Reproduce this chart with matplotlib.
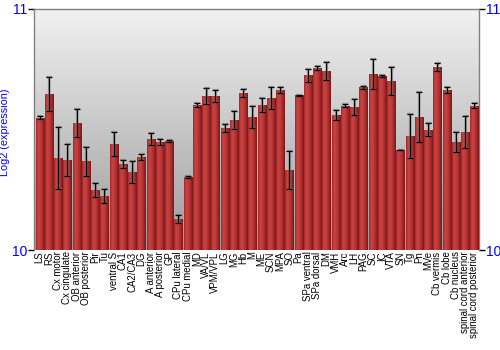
import numpy as np
import matplotlib
matplotlib.use("Agg")
import matplotlib.pyplot as plt
from matplotlib.colors import LinearSegmentedColormap

# brain regions
regions = ['LS', 'RS', 'Cx motor', 'Cx cingulate', 'OB anterior', 'OB posterior',
           'Pir', 'Tu', 'ventral S', 'CA1', 'CA2/CA3', 'DG', 'A anterior',
           'A posterior', 'GP', 'CPu lateral', 'CPu medial', 'MD', 'VA/VL',
           'VPM/VPL', 'LG', 'MG', 'Hb', 'M', 'ME', 'SCN', 'MPA', 'SO', 'Pa',
           'SPa ventral', 'SPa dorsal', 'DM', 'VMH', 'Arc', 'LH', 'PAG', 'SC',
           'IC', 'VTA', 'SN', 'Tg', 'Pn', 'MVe', 'Cb vermis', 'Cb lobe',
           'Cb nucleus', 'spinal cord anterior', 'spinal cord posterior']

# log2 expression (mean) and error
expr = [10.548, 10.647, 10.382, 10.373, 10.527, 10.369,
        10.249, 10.224, 10.440, 10.357, 10.324, 10.386, 10.461,
        10.448, 10.452, 10.129, 10.303, 10.602, 10.639,
        10.639, 10.506, 10.539, 10.651, 10.552, 10.600, 10.631, 10.664,
        10.332, 10.643, 10.726, 10.755, 10.743, 10.560, 10.598, 10.593,
        10.676, 10.730, 10.722, 10.701, 10.415, 10.473, 10.552, 10.498,
        10.759, 10.664, 10.448, 10.490, 10.598]
err = [0.006, 0.072, 0.127, 0.068, 0.058, 0.060,
       0.031, 0.029, 0.050, 0.018, 0.046, 0.014, 0.025,
       0.012, 0.004, 0.015, 0.006, 0.008, 0.035,
       0.023, 0.017, 0.037, 0.016, 0.044, 0.029, 0.044, 0.012,
       0.077, 0.002, 0.027, 0.008, 0.039, 0.021, 0.006, 0.033,
       0.006, 0.062, 0.006, 0.058, 0.002, 0.093, 0.104, 0.027,
       0.017, 0.014, 0.041, 0.066, 0.010]

x = np.arange(len(regions))

fig = plt.figure(figsize=(5, 3.5), dpi=100)
ax = fig.add_axes([0.068, 0.2857, 0.89, 0.6886])

ax.set_xlim(-0.6, len(regions) - 0.5)
ax.set_ylim(10, 11)

# gray gradient background (light at top)
bg = np.linspace(0, 1, 256).reshape(-1, 1)
bg_cmap = LinearSegmentedColormap.from_list('bg', ['#f2f2f2', '#9c9c9c'])
ax.imshow(bg, cmap=bg_cmap, aspect='auto', origin='upper',
          extent=[-0.6, len(regions) - 0.5, 10, 11],
          zorder=0, interpolation='bicubic')

bars = ax.bar(x, expr, width=0.865, bottom=0, color='#b83232', zorder=2)
ax.set_ylim(10, 11)

# shaded bars (darker edges)
bar_cmap = LinearSegmentedColormap.from_list(
    'bar', ['#a02828', '#c94545', '#c03a3a', '#a52a2a', '#7a1616'])
grad = np.linspace(0, 1, 64).reshape(1, -1)
for b in bars:
    x0 = b.get_x()
    w = b.get_width()
    im = ax.imshow(grad, cmap=bar_cmap, aspect='auto',
                   extent=[x0, x0 + w, 10, b.get_height()], zorder=3)
    im.set_clip_path(b)

# error bars with a soft shadow
ax.errorbar(x + 0.05, expr, yerr=err, fmt='none', ecolor='#777777', elinewidth=1.6,
            capsize=2.2, capthick=1.6, alpha=0.6, zorder=4)
ax.errorbar(x, expr, yerr=err, fmt='none', ecolor='black', elinewidth=0.9,
            capsize=2.2, capthick=0.9, zorder=5)

ax.set_xlim(-0.6, len(regions) - 0.5)

# axes styling
for s in ['left', 'top', 'right']:
    ax.spines[s].set_color('#808080')
    ax.spines[s].set_linewidth(1.0)
ax.spines['bottom'].set_visible(False)

ax.set_yticks([10, 11])
ax.set_yticklabels(['10', '11'], color='blue', fontsize=10, family='Liberation Sans')
ax.tick_params(axis='y', which='both', left=True, right=True, labelleft=True,
               labelright=True, length=4, width=1, color='black', pad=1)

ax.set_xticks(x)
ax.set_xticklabels(regions, rotation=90, fontsize=6.9, family='Liberation Sans')
ax.tick_params(axis='x', length=0, pad=1)

ax.set_ylabel('Log2 (expression)', color='blue', fontsize=7.8,
              family='Liberation Sans', labelpad=0)
ax.yaxis.set_label_coords(-0.055, 0.49)

fig.savefig('out.png', dpi=100)
